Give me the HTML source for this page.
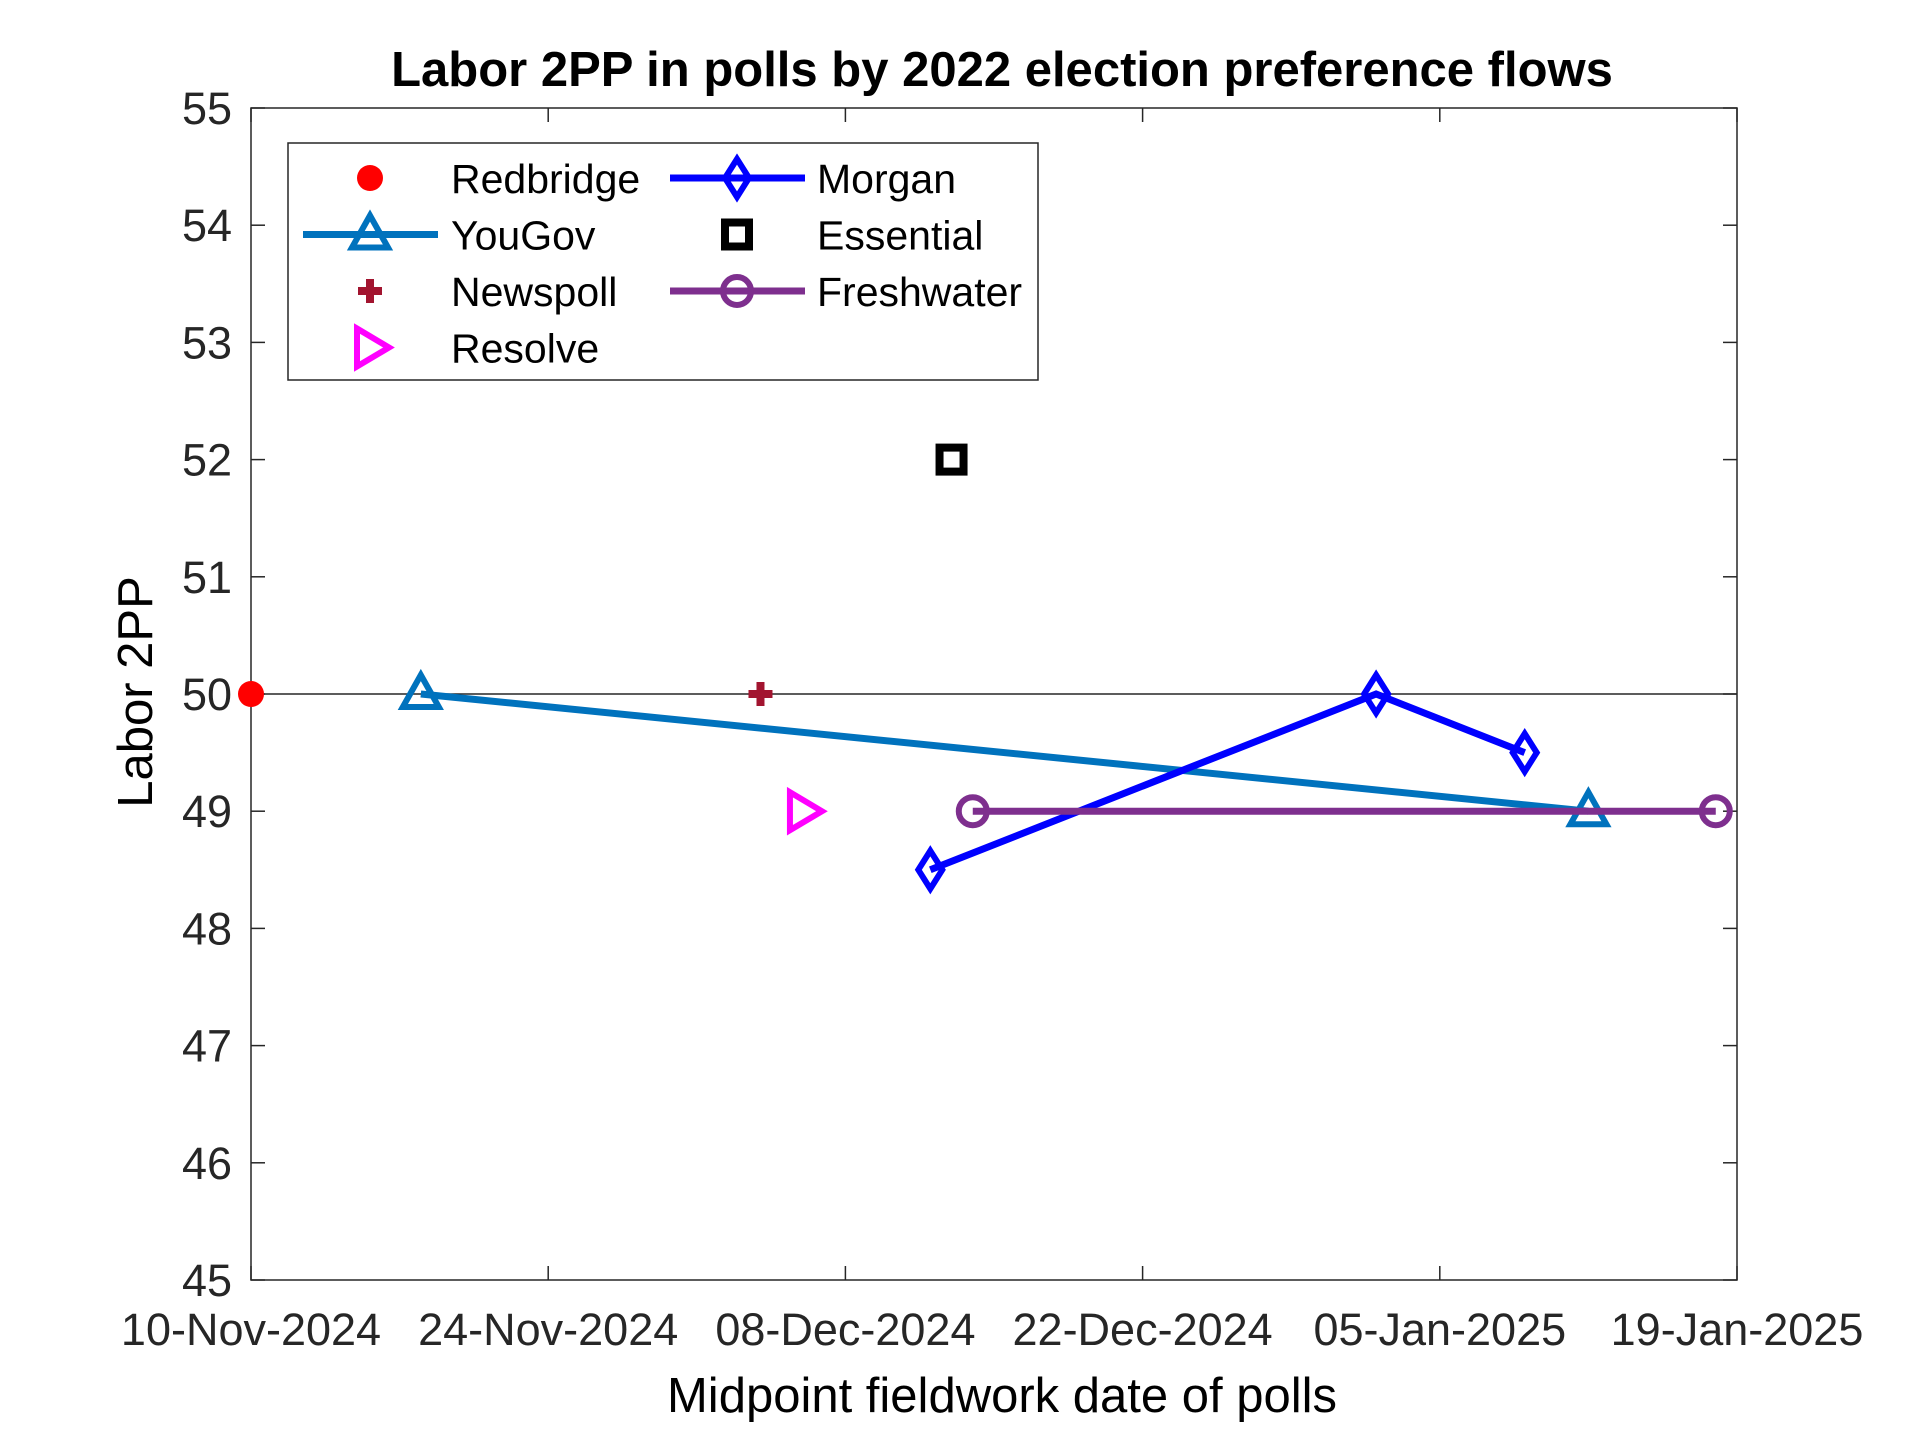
<!DOCTYPE html>
<html><head><meta charset="utf-8"><style>
html,body{margin:0;padding:0;background:#fff}
svg{display:block;font-family:"Liberation Sans",Arial,sans-serif}
</style></head><body>
<svg id="chart" width="1920" height="1439" viewBox="0 0 1920 1439">
<rect width="1920" height="1439" fill="#fff"/>
<text x="1002" y="86" text-anchor="middle" font-size="49" font-weight="bold">Labor 2PP in polls by 2022 election preference flows</text>
<g id="axes"></g>
<g id="marks"></g>
<text x="0" y="0" transform="translate(152,692) rotate(-90)" text-anchor="middle" font-size="49">Labor 2PP</text>
<text x="1002" y="1412" text-anchor="middle" font-size="49">Midpoint fieldwork date of polls</text>
<g id="legend"></g>
</svg>
<script>
const xTickLabels = ["10-Nov-2024","24-Nov-2024","08-Dec-2024","22-Dec-2024","05-Jan-2025","19-Jan-2025"];
const xTickDays = [0,14,28,42,56,70];
const yTicks = [45,46,47,48,49,50,51,52,53,54,55];
const redbridgeDays = [0];
const redbridgeVals = [50];
const yougovDays = [8,63];
const yougovVals = [50,49];
const newspollDays = [24];
const newspollVals = [50];
const resolveDays = [26];
const resolveVals = [49];
const essentialDays = [33];
const essentialVals = [52];
const morganDays = [32,53,60];
const morganVals = [48.5,50,49.5];
const freshwaterDays = [34,69];
const freshwaterVals = [49,49];

const L=251,R=1737,T=108,B=1280;
const X=d=>L+(d-0)/70*(R-L);
const Y=v=>B-(v-45)/10*(B-T);
const NS="http://www.w3.org/2000/svg";
function mk(parent,tag,attrs){const e=document.createElementNS(NS,tag);for(const k in attrs)e.setAttribute(k,attrs[k]);parent.appendChild(e);return e;}
const axes=document.getElementById('axes'),marks=document.getElementById('marks'),leg=document.getElementById('legend');

let box=mk(axes,'rect',{x:L,y:T,width:R-L,height:B-T,fill:'none',stroke:'#262626','stroke-width':1.5});


let ref=mk(axes,'line',{x1:L,x2:R,y1:Y(50),y2:Y(50),stroke:'#262626','stroke-width':1.5});


yTicks.forEach(v=>{
  mk(axes,'line',{x1:L,x2:L+14,y1:Y(v),y2:Y(v),stroke:'#262626','stroke-width':1.5});
  mk(axes,'line',{x1:R,x2:R-14,y1:Y(v),y2:Y(v),stroke:'#262626','stroke-width':1.5});
  const t=mk(axes,'text',{x:232,y:Y(v)+16,'text-anchor':'end','font-size':45,fill:'#262626'});
  t.textContent=v;
  
  
});
xTickDays.forEach((d,i)=>{
  mk(axes,'line',{x1:X(d),x2:X(d),y1:B,y2:B-14,stroke:'#262626','stroke-width':1.5});
  mk(axes,'line',{x1:X(d),x2:X(d),y1:T,y2:T+14,stroke:'#262626','stroke-width':1.5});
  const t=mk(axes,'text',{x:X(d),y:1345,'text-anchor':'middle','font-size':45,fill:'#262626'});
  t.textContent=xTickLabels[i];
  
  
});

function marker(g,type,cx,cy,color){
  let e;
  if(type==='dot') e=mk(g,'circle',{cx,cy,r:13,fill:color});
  else if(type==='tri') e=mk(g,'polygon',{points:`${cx},${cy-19} ${cx-18},${cy+13} ${cx+18},${cy+13}`,fill:'none',stroke:color,'stroke-width':6});
  else if(type==='plus') e=mk(g,'path',{d:`M${cx-12},${cy}H${cx+12}M${cx},${cy-12}V${cy+12}`,stroke:color,'stroke-width':8});
  else if(type==='rtri') e=mk(g,'polygon',{points:`${cx-13},${cy-19} ${cx+19},${cy} ${cx-13},${cy+19}`,fill:'none',stroke:color,'stroke-width':6});
  else if(type==='sq') e=mk(g,'rect',{x:cx-12,y:cy-12,width:24,height:24,fill:'none',stroke:color,'stroke-width':8});
  else if(type==='dia') e=mk(g,'polygon',{points:`${cx},${cy-19} ${cx+12},${cy} ${cx},${cy+19} ${cx-12},${cy}`,fill:'none',stroke:color,'stroke-width':6});
  else if(type==='circ') e=mk(g,'circle',{cx,cy,r:14,fill:'none',stroke:color,'stroke-width':6});
  return e;
}
const series=[
 {name:'yougov',days:yougovDays,vals:yougovVals,m:'tri',c:'#0072BD',line:true},
 {name:'morgan',days:morganDays,vals:morganVals,m:'dia',c:'#0000FF',line:true},
 {name:'freshwater',days:freshwaterDays,vals:freshwaterVals,m:'circ',c:'#7E2F8E',line:true},
 {name:'redbridge',days:redbridgeDays,vals:redbridgeVals,m:'dot',c:'#FF0000'},
 {name:'newspoll',days:newspollDays,vals:newspollVals,m:'plus',c:'#A2142F'},
 {name:'resolve',days:resolveDays,vals:resolveVals,m:'rtri',c:'#FF00FF'},
 {name:'essential',days:essentialDays,vals:essentialVals,m:'sq',c:'#000000'}
];
series.forEach(s=>{
  const g=mk(marks,'g',{});
  
  
  if(s.line){
    const p=mk(g,'polyline',{points:s.days.map((d,i)=>X(d)+','+Y(s.vals[i])).join(' '),fill:'none',stroke:s.c,'stroke-width':7});
    
    
  }
  s.days.forEach((d,i)=>{
    const e=marker(g,s.m,X(d),Y(s.vals[i]),s.c);
    
    
  });
});

let lb=mk(leg,'rect',{x:288,y:143,width:750,height:237,fill:'#fff',stroke:'#262626','stroke-width':1.5});


const legItems=[
 ['Redbridge','dot','#FF0000',0,0,false],['YouGov','tri','#0072BD',0,1,true],['Newspoll','plus','#A2142F',0,2,false],['Resolve','rtri','#FF00FF',0,3,false],
 ['Morgan','dia','#0000FF',1,0,true],['Essential','sq','#000000',1,1,false],['Freshwater','circ','#7E2F8E',1,2,true]
];
legItems.forEach(it=>{
  const g=mk(leg,'g',{});
  
  
  const y=178+it[4]*56.5;
  const lx0=it[3]?670:303, lx1=it[3]?805:438, mx=it[3]?737:370, tx=it[3]?817:451;
  if(it[5]) mk(g,'line',{x1:lx0,x2:lx1,y1:y,y2:y,stroke:it[2],'stroke-width':7});
  marker(g,it[1],mx,y,it[2]);
  const t=mk(g,'text',{x:tx,y:y+15,'font-size':41});
  t.textContent=it[0];
});
</script>
</body></html>
